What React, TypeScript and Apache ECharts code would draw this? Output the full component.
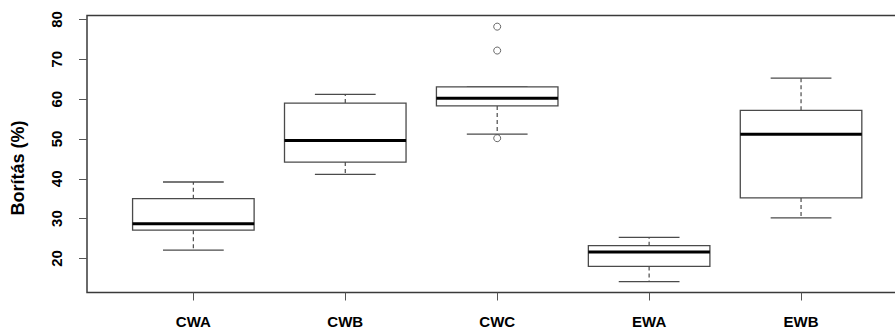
import React, { useEffect, useRef } from "react";
import * as echarts from "echarts";

const categories = ["CWA", "CWB", "CWC", "EWA", "EWB"];
const whiskerLow = [22.1, 41.1, 51.2, 14.2, 30.2];
const quartile1 = [27.1, 44.2, 58.3, 18.0, 35.2];
const medians = [28.7, 49.6, 60.2, 21.6, 51.2];
const quartile3 = [35.0, 59.0, 63.1, 23.2, 57.2];
const whiskerHigh = [39.2, 61.2, 63.1, 25.3, 65.3];
const outliers: [number, number][] = [
  [3, 78.2],
  [3, 72.2],
  [3, 50.2],
];
const yTicks = [20, 30, 40, 50, 60, 70, 80];
const xTicks = [1, 2, 3, 4, 5];

export default function App() {
  const ref = useRef<HTMLDivElement>(null);
  useEffect(() => {
    document.body.style.margin = "0";
    document.body.style.overflow = "hidden";
    if (!ref.current) return;
    const chart = echarts.init(ref.current, undefined, { renderer: "svg" });
    const boxData = categories.map((_, i) => [
      i + 1,
      whiskerLow[i],
      quartile1[i],
      medians[i],
      quartile3[i],
      whiskerHigh[i],
    ]);
    const boxStroke = "#4a4a4a";
    chart.setOption({
      animation: false,
      backgroundColor: "#ffffff",
      grid: {
        left: 87,
        right: 12.6,
        top: 15.5,
        bottom: 37.5,
        show: true,
        borderColor: "#3a3a3a",
        borderWidth: 1.5,
        backgroundColor: "transparent",
      },
      xAxis: {
        type: "value",
        min: 0.3,
        max: 5.7,
        splitLine: { show: false },
        axisLine: { show: false },
        axisTick: {
          show: true,
          customValues: xTicks,
          length: 8,
          lineStyle: { color: "#555", width: 1 },
        },
        axisLabel: {
          customValues: xTicks,
          formatter: (v: number) => categories[Math.round(v) - 1] ?? "",
          fontFamily: "Liberation Sans, Arial, sans-serif",
          fontWeight: "bold",
          fontSize: 15,
          color: "#000",
          margin: 21,
        },
      },
      yAxis: {
        type: "value",
        min: 11.45,
        max: 81.0,
        splitLine: { show: false },
        axisLine: { show: false },
        axisTick: {
          show: true,
          customValues: yTicks,
          length: 8,
          lineStyle: { color: "#555", width: 1 },
        },
        axisLabel: {
          customValues: yTicks,
          rotate: 90,
          fontFamily: "Liberation Sans, Arial, sans-serif",
          fontWeight: "bold",
          fontSize: 15,
          color: "#000",
          margin: 23,
        },
      },
      graphic: [
        {
          type: "text",
          x: 17.5,
          y: 168,
          rotation: Math.PI / 2,
          style: {
            text: "Borítás (%)",
            fontFamily: "Liberation Sans, Arial, sans-serif",
            fontWeight: "bold",
            fontSize: 18,
            fill: "#000",
            textAlign: "center",
            textVerticalAlign: "middle",
          },
        },
      ],
      series: [
        {
          type: "custom",
          data: boxData,
          clip: false,
          renderItem: (params: any, api: any) => {
            const x = api.value(0);
            const lo = api.coord([x, api.value(1)]);
            const q1 = api.coord([x, api.value(2)]);
            const md = api.coord([x, api.value(3)]);
            const q3 = api.coord([x, api.value(4)]);
            const hi = api.coord([x, api.value(5)]);
            const w = api.size([0.8, 0])[0];
            const cx = md[0];
            const cap = w / 4;
            const children: any[] = [
              {
                type: "line",
                shape: { x1: cx, y1: q3[1], x2: cx, y2: hi[1] },
                style: { stroke: boxStroke, lineWidth: 1.2, lineDash: [4, 3] },
              },
              {
                type: "line",
                shape: { x1: cx, y1: q1[1], x2: cx, y2: lo[1] },
                style: { stroke: boxStroke, lineWidth: 1.2, lineDash: [4, 3] },
              },
              {
                type: "line",
                shape: { x1: cx - cap, y1: hi[1], x2: cx + cap, y2: hi[1] },
                style: { stroke: boxStroke, lineWidth: 1.3 },
              },
              {
                type: "line",
                shape: { x1: cx - cap, y1: lo[1], x2: cx + cap, y2: lo[1] },
                style: { stroke: boxStroke, lineWidth: 1.3 },
              },
              {
                type: "rect",
                shape: { x: cx - w / 2, y: q3[1], width: w, height: q1[1] - q3[1] },
                style: { fill: "#ffffff", stroke: boxStroke, lineWidth: 1.3 },
              },
              {
                type: "line",
                shape: { x1: cx - w / 2, y1: md[1], x2: cx + w / 2, y2: md[1] },
                style: { stroke: "#000", lineWidth: 3 },
              },
            ];
            return { type: "group", children };
          },
        },
        {
          type: "scatter",
          data: outliers,
          symbol: "circle",
          symbolSize: 7,
          itemStyle: { color: "#ffffff", borderColor: "#444", borderWidth: 1 },
          z: 5,
        },
      ],
    });
    return () => chart.dispose();
  }, []);
  return <div ref={ref} style={{ width: 920, height: 330 }} />;
}
